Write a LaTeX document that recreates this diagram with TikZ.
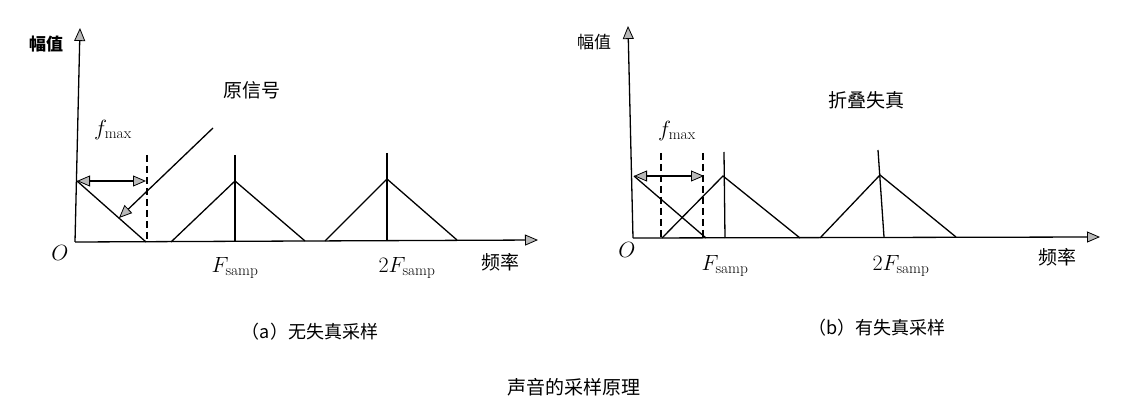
\RequirePackage{fix-cm}
\documentclass[tikz,border=0pt]{standalone}
\usepackage{fontspec}
\newfontfamily\cjk{Noto Sans CJK SC}
\usetikzlibrary{arrows.meta}
\begin{document}
\begin{tikzpicture}[x=1pt,y=-1pt,
  tip/.tip={Triangle[length=13pt,width=11pt,fill=gray!55,line width=0.8pt]},
  ax/.style={line width=1.3pt,-tip},
  sig/.style={line width=1.3pt},
  dashline/.style={line width=1.3pt,dash pattern=on 7pt off 4pt},
  dbl/.style={line width=1.3pt,tip-tip},
  ptr/.style={line width=1.3pt,-tip},
  zh/.style={font=\cjk\fontsize{19}{19}\selectfont,inner sep=0pt},
  zhs/.style={font=\cjk\fontsize{18}{18}\selectfont,inner sep=0pt},
  mth/.style={font=\fontsize{22}{22}\selectfont,inner sep=0pt}]
\useasboundingbox (0,0) rectangle (1128,414);
% ---------- panel (a)
\coordinate (oa) at (75,242);
\coordinate (ya) at (80,28);
\coordinate (xa) at (538,240);
\draw[ax] (oa) -- (ya);
\draw[ax] (oa) -- (xa);
\coordinate (pa0) at (77,181);
\coordinate (ba0) at (146,242);
\coordinate (fa) at (146,181);
\draw[sig] (pa0) -- (ba0);
\draw[dbl] (pa0) -- (fa);
\coordinate (da1t) at (147,155);
\coordinate (da1b) at (147,242);
\draw[dashline] (da1t) -- (da1b);
\coordinate (pt1) at (213,128);
\coordinate (pt2) at (119,218);
\draw[ptr] (pt1) -- (pt2);
\coordinate (a2l) at (171,242);
\coordinate (a2p) at (235,181);
\coordinate (a2r) at (305,241);
\coordinate (a2t) at (235,155);
\coordinate (a2b) at (235,241);
\draw[sig] (a2l) -- (a2p) -- (a2r);
\draw[sig] (a2t) -- (a2b);
\coordinate (a3l) at (325,241);
\coordinate (a3p) at (387,179);
\coordinate (a3r) at (457,240);
\coordinate (a3t) at (387,153);
\coordinate (a3b) at (387,240);
\draw[sig] (a3l) -- (a3p) -- (a3r);
\draw[sig] (a3t) -- (a3b);
\node[zh,font=\cjk\fontsize{17}{17}\selectfont\bfseries] (lya) at (46,44) {幅值};
\node[mth] (loa) at (60,253) {$O$};
\node[zh] (lorig) at (252,90) {原信号};
\node[mth] (lfa) at (113,130) {$f_{\mathrm{max}}$};
\node[mth] (lfsa) at (235,268) {$F_{\mathrm{samp}}$};
\node[mth] (l2fsa) at (407,268) {$2F_{\mathrm{samp}}$};
\node[zh] (lxa) at (500,262) {频率};
\node[zhs] (capa) at (310,332) {（a）无失真采样};
% ---------- panel (b)
\coordinate (ob) at (633,238);
\coordinate (yb) at (628,26);
\coordinate (xb) at (1100,237);
\draw[ax] (ob) -- (yb);
\draw[ax] (ob) -- (xb);
\coordinate (pb0) at (634,176);
\coordinate (bb0) at (706,238);
\coordinate (fb) at (704,176);
\draw[sig] (pb0) -- (bb0);
\draw[dbl] (pb0) -- (fb);
\coordinate (db1t) at (661,153);
\coordinate (db1b) at (661,238);
\coordinate (db2t) at (703,153);
\coordinate (db2b) at (703,238);
\draw[dashline] (db1t) -- (db1b);
\draw[dashline] (db2t) -- (db2b);
\coordinate (b2l) at (662,238);
\coordinate (b2p) at (723,176);
\coordinate (b2r) at (800,238);
\coordinate (b2t) at (724,152);
\coordinate (b2b) at (725,238);
\draw[sig] (b2l) -- (b2p) -- (b2r);
\draw[sig] (b2t) -- (b2b);
\coordinate (b3l) at (820,238);
\coordinate (b3p) at (880,175);
\coordinate (b3r) at (956,237);
\coordinate (b3t) at (878,150);
\coordinate (b3b) at (884,237);
\draw[sig] (b3l) -- (b3p) -- (b3r);
\draw[sig] (b3t) -- (b3b);
\node[zh,font=\cjk\fontsize{17}{17}\selectfont] (lyb) at (594,42) {幅值};
\node[mth] (lob) at (627,250) {$O$};
\node[zh] (lfold) at (866,100) {折叠失真};
\node[mth] (lfb) at (677,131) {$f_{\mathrm{max}}$};
\node[mth] (lfsb) at (725,266) {$F_{\mathrm{samp}}$};
\node[mth] (l2fsb) at (901,266) {$2F_{\mathrm{samp}}$};
\node[zh] (lxb) at (1057,257) {频率};
\node[zhs] (capb) at (877,328) {（b）有失真采样};
% ---------- title
\node[zh] (title) at (574,387) {声音的采样原理};
\end{tikzpicture}
\end{document}
